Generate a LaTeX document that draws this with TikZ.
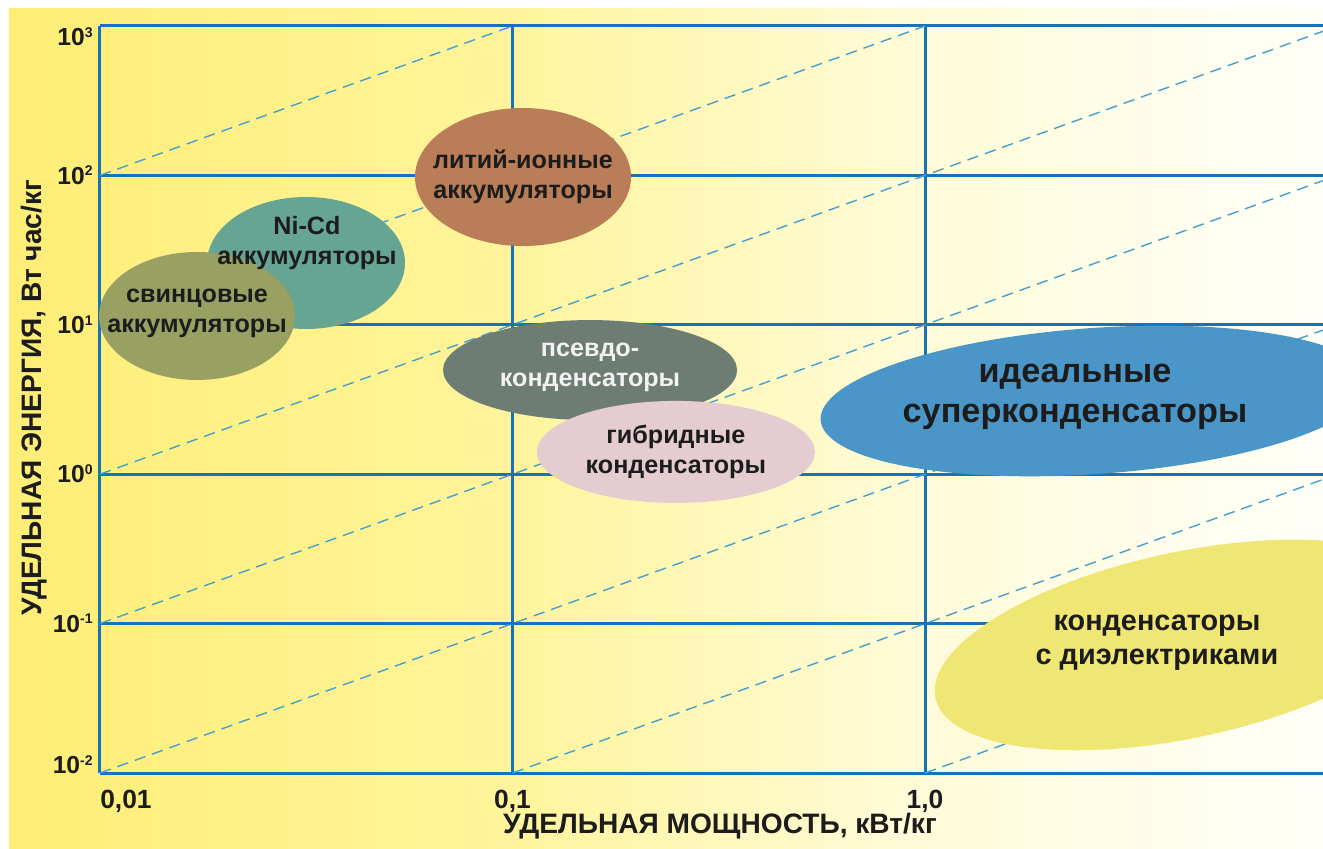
\documentclass[tikz,border=0pt]{standalone}
\usepackage{fontspec}
\setmainfont{Liberation Sans}
\usepackage{tikz}
\definecolor{gridblue}{RGB}{20,115,185}
\definecolor{guideblue}{RGB}{70,160,205}
\definecolor{bgyellow}{RGB}{254,238,118}
\definecolor{bgpale}{RGB}{255,244,155}
\definecolor{bgcream}{RGB}{255,251,215}
\definecolor{bgwhite}{RGB}{255,255,248}
\definecolor{textdark}{RGB}{28,28,28}
\definecolor{liioncolor}{RGB}{185,125,88}
\definecolor{nicdcolor}{RGB}{102,165,148}
\definecolor{leadcolor}{RGB}{152,160,98}
\definecolor{pseudocolor}{RGB}{110,125,116}
\definecolor{hybridcolor}{RGB}{228,204,208}
\definecolor{idealcolor}{RGB}{75,150,200}
\definecolor{dielcolor}{RGB}{240,230,115}
\newcommand{\decpow}[1]{\raisebox{4.8pt}{\fontsize{8}{8}\selectfont #1}}

\begin{document}
\begin{tikzpicture}[
    x=8.25cm, y=2.988cm,
    gridline/.style={draw=gridblue, line width=1.7pt},
    guide/.style={draw=guideblue, line width=0.8pt, dash pattern=on 6.5pt off 4pt},
    blob/.style={font=\bfseries\fontsize{14.3}{17}\selectfont, text=textdark, align=center, inner sep=0pt},
    powertick/.style={font=\bfseries\fontsize{15}{18}\selectfont, text=textdark, inner sep=0pt, yshift=-0.34cm},
    energytick/.style={font=\bfseries\fontsize{14}{17}\selectfont, text=textdark, inner sep=0pt, anchor=base east, xshift=-0.14cm},
    axislabel/.style={font=\bfseries\fontsize{16}{19}\selectfont, text=textdark, inner sep=0pt}
]
    \useasboundingbox (-0.2424,-0.502) rectangle (2.9648,5.174);
    \fill[white] (-0.2424,-0.502) rectangle (2.9648,5.174);
    \shade[left color=bgyellow, right color=bgpale] (-0.2206,-0.502) rectangle (0.975,5.114);
    \shade[left color=bgpale, right color=bgcream] (0.97,-0.502) rectangle (1.945,5.114);
    \shade[left color=bgcream, right color=bgwhite] (1.94,-0.502) rectangle (2.9648,5.114);

    \draw[gridline] (0,0) -- (0,5);
    \draw[gridline] (1,0) -- (1,5);
    \draw[gridline] (2,0) -- (2,5);
    \draw[gridline] (0,0) -- (2.9648,0);
    \draw[gridline] (0,1) -- (2.9648,1);
    \draw[gridline] (0,2) -- (2.9648,2);
    \draw[gridline] (0,3) -- (2.9648,3);
    \draw[gridline] (0,4) -- (2.9648,4);
    \draw[gridline] (0,5) -- (2.9648,5);

    \begin{scope}
        \clip (0,0) rectangle (2.9648,5);
        \draw[guide] (0,4) -- (1,5);
        \draw[guide] (0,3) -- (2,5);
        \draw[guide] (0,2) -- (3,5);
        \draw[guide] (0,1) -- (3,4);
        \draw[guide] (0,0) -- (3,3);
        \draw[guide] (1,0) -- (3,2);
        \draw[guide] (2,0) -- (3,1);
    \end{scope}

    \fill[nicdcolor] (0.4994,3.4137) ellipse [x radius=1.98cm, y radius=1.32cm];
    \fill[leadcolor] (0.2352,3.059) ellipse [x radius=1.96cm, y radius=1.28cm];
    \fill[liioncolor] (1.0255,3.989) ellipse [x radius=2.16cm, y radius=1.38cm];
    \fill[pseudocolor] (1.188,2.697) ellipse [x radius=2.94cm, y radius=1.0cm];
    \fill[hybridcolor] (1.396,2.149) ellipse [x radius=2.78cm, y radius=1.02cm];
    \fill[idealcolor, rotate around={4:(2.412,2.49)}] (2.412,2.49) ellipse [x radius=5.5cm, y radius=1.46cm];
    \fill[dielcolor, rotate around={12:(2.63,0.857)}] (2.63,0.857) ellipse [x radius=5.1cm, y radius=1.86cm];

    \node[blob] (liion) at (1.0255,3.989) {литий-ионные\\аккумуляторы};
    \node[blob] (nicd) at (0.5018,3.547) {Ni-Cd\\аккумуляторы};
    \node[blob] (lead) at (0.2352,3.079) {свинцовые\\аккумуляторы};
    \node[blob, text=white!95!black] (pseudo) at (1.188,2.7175) {псевдо-\\конденсаторы};
    \node[blob] (hybrid) at (1.396,2.149) {гибридные\\конденсаторы};
    \node[blob, font=\bfseries\fontsize{19.5}{23}\selectfont] (ideal) at (2.3636,2.517) {идеальные\\суперконденсаторы};
    \node[blob, font=\bfseries\fontsize{16.4}{19.5}\selectfont] (diel) at (2.5624,0.87) {конденсаторы\\с диэлектриками};

    \node[energytick, yshift=-11.3pt] (e3) at (0,5) {10\decpow{3}};
    \node[energytick, yshift=-5pt] (e2) at (0,4) {10\decpow{2}};
    \node[energytick, yshift=-5pt] (e1) at (0,3) {10\decpow{1}};
    \node[energytick, yshift=-5pt] (e0) at (0,2) {10\decpow{0}};
    \node[energytick, yshift=-5pt] (em1) at (0,1) {10\decpow{-1}};
    \node[energytick, yshift=-0.5pt] (em2) at (0,0) {10\decpow{-2}};

    \node[powertick, anchor=north west] (p1) at (0,0) {0,01};
    \node[powertick, anchor=north] (p2) at (1,0) {0,1};
    \node[powertick, anchor=north] (p3) at (2,0) {1,0};

    \node[axislabel, anchor=north] (xlabel) at (1.503,-0.268) {УДЕЛЬНАЯ МОЩНОСТЬ, кВт/кг};
    \node[axislabel, anchor=base, rotate=90] (ylabel) at (-0.1406,2.51) {УДЕЛЬНАЯ ЭНЕРГИЯ, Вт час/кг};
\end{tikzpicture}
\end{document}
